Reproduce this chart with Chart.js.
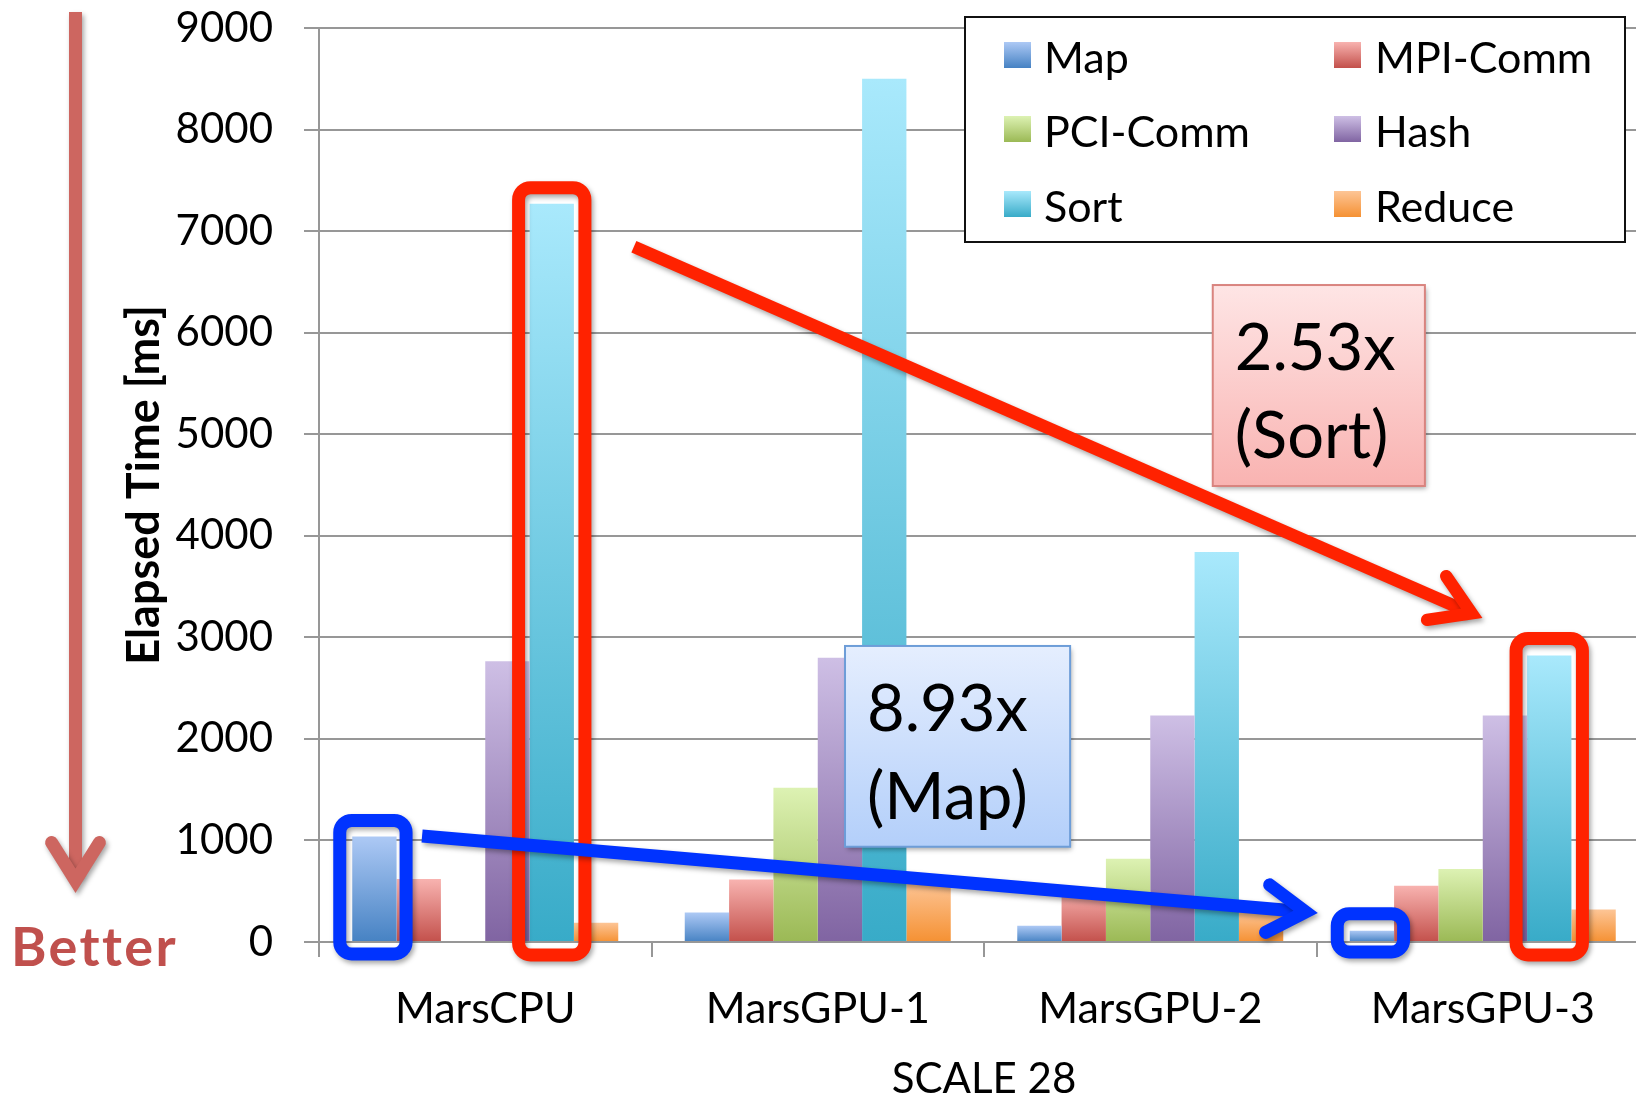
<!DOCTYPE html>
<html>
<head>
<meta charset="utf-8">
<script src="https://cdn.jsdelivr.net/npm/chart.js@4"></script>
<style>
  html, body { margin: 0; padding: 0; background: #fff; overflow: hidden; }
  #wrap { position: relative; width: 1649px; height: 1098px; }
</style>
</head>
<body>
<div id="wrap"><canvas id="chart"></canvas></div>
<script>
// ---- data (elapsed time per phase, ms) ----
const categories = ['MarsCPU', 'MarsGPU-1', 'MarsGPU-2', 'MarsGPU-3'];
const seriesNames = ['Map', 'MPI-Comm', 'PCI-Comm', 'Hash', 'Sort', 'Reduce'];
const mapMs      = [1040,  290,  160,  112];
const mpiCommMs  = [ 620,  615,  510,  555];
const pciCommMs  = [   0, 1520,  820,  720];
const hashMs     = [2765, 2800, 2230, 2230];
const sortMs     = [7270, 8500, 3840, 2820];
const reduceMs   = [ 190,  595,  300,  320];
const yTickValues = [0, 1000, 2000, 3000, 4000, 5000, 6000, 7000, 8000, 9000];
const yAxisTitle = 'Elapsed Time [ms]';
const xAxisTitle = 'SCALE 28';
const betterLabel = 'Better';
const sortSpeedupText = ['2.53x', '(Sort)'];
const mapSpeedupText = ['8.93x', '(Map)'];

// ---- styles ----
const gradients = [
  ['#adc9f5', '#4682c3'],
  ['#f8b3b0', '#c3504b'],
  ['#ddf2b3', '#9bb955'],
  ['#cebfe5', '#8064a2'],
  ['#a9e9fc', '#38abc8'],
  ['#fdc596', '#f59133']
];
const FONT = 'Lato, "Open Sans", sans-serif';
const GRID = '#979797';

const seriesValues = [mapMs, mpiCommMs, pciCommMs, hashMs, sortMs, reduceMs];

function barFill(i) {
  return (ctx) => {
    const chart = ctx.chart;
    const [top, bot] = gradients[i];
    if (!chart.chartArea || ctx.type !== 'data') return bot;
    const y = chart.scales.y;
    const yTop = y.getPixelForValue(ctx.raw);
    const yBase = y.getPixelForValue(0);
    if (Math.abs(yBase - yTop) < 1) return bot;
    const g = chart.ctx.createLinearGradient(0, yTop, 0, yBase);
    g.addColorStop(0, top);
    g.addColorStop(1, bot);
    return g;
  };
}

const datasets = seriesNames.map((name, i) => ({
  label: name,
  data: seriesValues[i],
  backgroundColor: barFill(i),
  borderWidth: 0,
  categoryPercentage: 0.8,
  barPercentage: 1.0
}));

// ---- overlay helpers ----
function xAt(chart, f) {
  const xs = chart.scales.x;
  const c0 = xs.getPixelForValue(0), c1 = xs.getPixelForValue(1);
  return c0 + f * (c1 - c0);
}
function yAt(chart, v) { return chart.scales.y.getPixelForValue(v); }

function withShadow(ctx, fn) {
  ctx.save();
  ctx.shadowColor = 'rgba(0,0,0,0.35)';
  ctx.shadowBlur = 5;
  ctx.shadowOffsetX = 2;
  ctx.shadowOffsetY = 3;
  fn();
  ctx.restore();
}

function drawArrow(ctx, x0, y0, x1, y1, color, w) {
  const headAng = 32 * Math.PI / 180, headLen = 45;
  const dx = x1 - x0, dy = y1 - y0, L = Math.hypot(dx, dy);
  const ux = dx / L, uy = dy / L;
  const ext = (w / 2) / Math.sin(headAng);
  const vx = x1 - ux * ext, vy = y1 - uy * ext;
  const rot = (a) => [(-ux) * Math.cos(a) - (-uy) * Math.sin(a), (-ux) * Math.sin(a) + (-uy) * Math.cos(a)];
  const a1 = rot(headAng), a2 = rot(-headAng);
  withShadow(ctx, () => {
    ctx.strokeStyle = color;
    ctx.lineWidth = w;
    ctx.lineCap = 'butt';
    ctx.beginPath();
    ctx.moveTo(x0, y0);
    ctx.lineTo(vx - ux * 4, vy - uy * 4);
    ctx.stroke();
    ctx.lineCap = 'round';
    ctx.lineJoin = 'miter';
    ctx.miterLimit = 10;
    ctx.beginPath();
    ctx.moveTo(vx + a1[0] * headLen, vy + a1[1] * headLen);
    ctx.lineTo(vx, vy);
    ctx.lineTo(vx + a2[0] * headLen, vy + a2[1] * headLen);
    ctx.stroke();
  });
}

function highlightBar(chart, dsIndex, dataIndex, color, pad) {
  const el = chart.getDatasetMeta(dsIndex).data[dataIndex];
  const left = el.x - el.width / 2 - pad.l;
  const right = el.x + el.width / 2 + pad.r;
  const top = el.y - pad.t;
  const bottom = el.base + pad.b;
  const ctx = chart.ctx;
  withShadow(ctx, () => {
    ctx.strokeStyle = color;
    ctx.lineWidth = 13;
    ctx.beginPath();
    ctx.roundRect(left, top, right - left, bottom - top, 12);
    ctx.stroke();
  });
}

function textBox(chart, box, lines, fillTop, fillBot, border) {
  const ctx = chart.ctx;
  const x0 = xAt(chart, box.f0), x1 = xAt(chart, box.f1);
  const y0 = yAt(chart, box.v0), y1 = yAt(chart, box.v1);
  const g = ctx.createLinearGradient(0, y0, 0, y1);
  g.addColorStop(0, fillTop);
  g.addColorStop(1, fillBot);
  withShadow(ctx, () => {
    ctx.fillStyle = g;
    ctx.fillRect(x0, y0, x1 - x0, y1 - y0);
  });
  ctx.save();
  ctx.strokeStyle = border;
  ctx.lineWidth = 2;
  ctx.strokeRect(x0, y0, x1 - x0, y1 - y0);
  ctx.fillStyle = '#000';
  ctx.font = '65px ' + FONT;
  ctx.textAlign = 'left';
  ctx.textBaseline = 'alphabetic';
  ctx.fillText(lines[0], x0 + 22, y0 + 85);
  ctx.fillText(lines[1], x0 + 22, y0 + 173);
  ctx.restore();
}

function drawLegend(chart) {
  const ctx = chart.ctx;
  const box = { x: 965, y: 17, w: 660, h: 225 };
  ctx.save();
  ctx.fillStyle = '#fff';
  ctx.fillRect(box.x, box.y, box.w, box.h);
  ctx.strokeStyle = '#111';
  ctx.lineWidth = 2;
  ctx.strokeRect(box.x, box.y, box.w, box.h);
  const colMarker = [1004, 1334], colText = [1044, 1375];
  const rowMarkerTop = [42, 116, 191], rowBaseline = [72.5, 147, 221.5];
  ctx.font = '43px ' + FONT;
  ctx.textBaseline = 'alphabetic';
  ctx.textAlign = 'left';
  chart.data.datasets.forEach((ds, i) => {
    const col = i % 2, row = Math.floor(i / 2);
    const mx = colMarker[col], my = rowMarkerTop[row];
    const g = ctx.createLinearGradient(0, my, 0, my + 26);
    g.addColorStop(0, gradients[i][0]);
    g.addColorStop(1, gradients[i][1]);
    ctx.fillStyle = g;
    ctx.fillRect(mx, my, 27, 26);
    ctx.fillStyle = '#000';
    ctx.fillText(ds.label, colText[col], rowBaseline[row]);
  });
  ctx.restore();
}

const overlay = {
  id: 'overlay',
  afterDraw(chart) {
    const ctx = chart.ctx;
    drawLegend(chart);

    // "lower is better" marker on the far left
    drawArrow(ctx, 75.5, 12, 75.5, 893, '#cd6660', 13);
    ctx.save();
    ctx.fillStyle = '#c0504d';
    ctx.font = 'bold 54px ' + FONT;
    ctx.textAlign = 'left';
    ctx.textBaseline = 'alphabetic';
    try { ctx.letterSpacing = '2.4px'; } catch (e) {}
    ctx.fillText(betterLabel, 11, 966);
    ctx.restore();

    // speedup call-outs
    textBox(chart, { f0: 2.188, f1: 2.826, v0: 6469, v1: 4490 }, sortSpeedupText, '#fee5e5', '#f9b3b1', '#d9847f');
    textBox(chart, { f0: 1.082, f1: 1.759, v0: 2915, v1: 938 }, mapSpeedupText, '#e5eefe', '#b3cffa', '#6d9dd8');

    // highlighted bars: Sort (dataset 4) and Map (dataset 0), CPU vs GPU-3
    highlightBar(chart, 4, 0, '#ff2200', { l: 11, r: 11, t: 16, b: 14 });
    highlightBar(chart, 4, 3, '#ff2200', { l: 11, r: 11, t: 17, b: 14 });
    highlightBar(chart, 0, 0, '#0033ff', { l: 12.5, r: 9.5, t: 16, b: 13 });
    highlightBar(chart, 0, 3, '#0033ff', { l: 12.5, r: 9.5, t: 17, b: 11 });

    drawArrow(ctx, xAt(chart, 0.447), yAt(chart, 6846), xAt(chart, 2.999), yAt(chart, 3190), '#ff2200', 12.5);
    drawArrow(ctx, xAt(chart, -0.190), yAt(chart, 1044), xAt(chart, 2.504), yAt(chart, 286), '#0033ff', 13);
  }
};

new Chart(document.getElementById('chart'), {
  type: 'bar',
  data: { labels: categories, datasets },
  options: {
    responsive: true,
    maintainAspectRatio: false,
    animation: false,
    layout: { padding: { top: 28, left: 0, right: 0, bottom: 0 } },
    plugins: { legend: { display: false }, tooltip: { enabled: false } },
    scales: {
      x: {
        offset: true,
        grid: { display: true, drawOnChartArea: false, drawTicks: true, tickLength: 15, color: GRID, lineWidth: 2, offset: true },
        border: { display: true, color: GRID, width: 2 },
        ticks: { color: '#000', font: { family: FONT, size: 43 }, padding: 26 },
        title: { display: true, text: xAxisTitle, color: '#000', font: { family: FONT, size: 42, lineHeight: 0.9 }, padding: { top: 0, bottom: 0 } },
        afterFit(scale) { scale.height = 156; }
      },
      y: {
        min: 0,
        max: 9000,
        afterBuildTicks(scale) { scale.ticks = yTickValues.map(v => ({ value: v })); },
        grid: { color: GRID, lineWidth: 2, tickLength: 15, drawTicks: true },
        border: { display: true, color: GRID, width: 2 },
        ticks: { color: '#000', font: { family: FONT, size: 42 }, padding: 31, callback: (v) => String(v) },
        title: { display: true, text: yAxisTitle, color: '#000', font: { family: FONT, size: 45, weight: 'bold', lineHeight: 1.2 }, padding: { top: 117, bottom: 0 } },
        afterFit(scale) {
          scale.width = 319;
          scale.paddingTop = 0;
          scale.paddingBottom = 0;
        }
      }
    }
  },
  plugins: [overlay]
});
</script>
</body>
</html>
